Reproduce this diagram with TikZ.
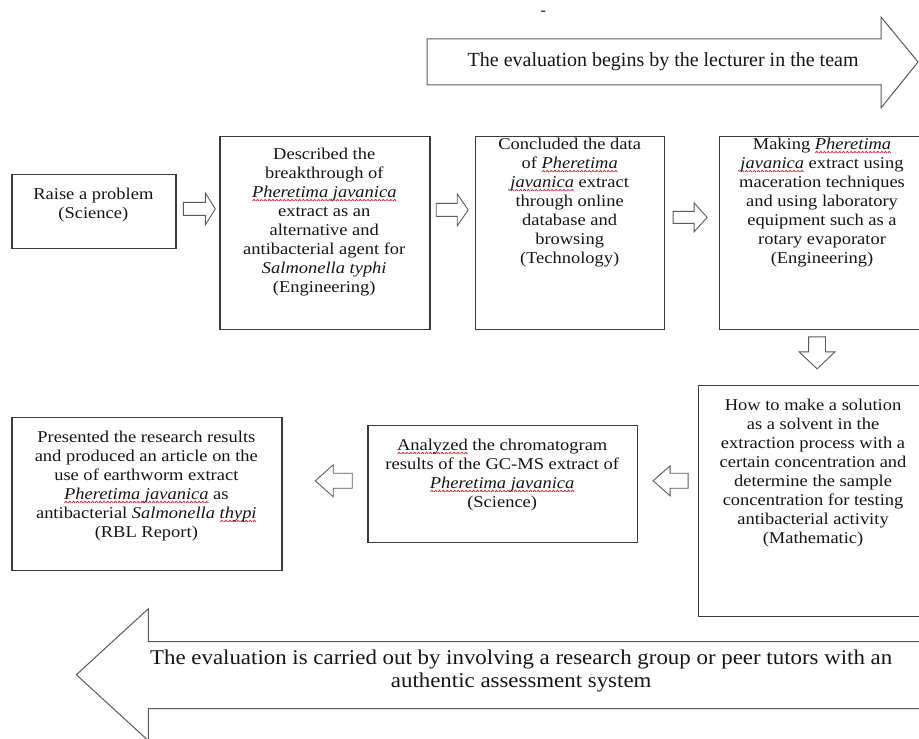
\documentclass[tikz,border=0pt]{standalone}
\usepackage{fontspec}
\setmainfont{Liberation Serif}
\newfontfamily\boxfont[FakeStretch=1.12]{Liberation Serif}
\newfontfamily\wideserif[FakeStretch=1.09]{Liberation Serif}
\definecolor{spellred}{HTML}{D02838}
\definecolor{boxgray}{HTML}{3A3A3A}
\definecolor{arrgray}{HTML}{5A5A5A}
\definecolor{txtcol}{HTML}{151515}
\newsavebox\spellbox
\newsavebox\wavebox
\newcommand\spell[1]{\sbox\spellbox{#1}\leavevmode\hbox{\rlap{\raisebox{-3.6pt}{\hbox to \wd\spellbox{\xleaders\copy\wavebox\hfill}}}\usebox\spellbox}}
\newcommand\arrR[6]{\draw[blk] (#1,#3-#4) -- (#2-#6,#3-#4) -- (#2-#6,#3-#5) -- (#2,#3) -- (#2-#6,#3+#5) -- (#2-#6,#3+#4) -- (#1,#3+#4) -- cycle;}
\newcommand\arrL[6]{\draw[blk] (#2,#3-#4) -- (#1+#6,#3-#4) -- (#1+#6,#3-#5) -- (#1,#3) -- (#1+#6,#3+#5) -- (#1+#6,#3+#4) -- (#2,#3+#4) -- cycle;}
\newcommand\arrD[6]{\draw[blk] (#1-#4,#2) -- (#1-#4,#3-#6) -- (#1-#5,#3-#6) -- (#1,#3) -- (#1+#5,#3-#6) -- (#1+#4,#3-#6) -- (#1+#4,#2) -- cycle;}
\tikzset{
  boxst/.style={draw=boxgray, line width=1.3pt, fill=white, inner sep=0pt, anchor=north west},
  txt/.style={inner sep=0pt, align=center, anchor=north, text=txtcol,
    font=\boxfont\fontsize{16.5}{19}\selectfont},
  blk/.style={draw=arrgray, line width=0.9pt, fill=white, line join=miter},
  bigblk/.style={draw=arrgray, line width=1pt, fill=white, line join=miter},
}
\begin{document}
\begin{tikzpicture}[x=1pt,y=-1pt]
\global\sbox\wavebox{\begin{pgfpicture}\pgfsetlinewidth{0.8pt}\pgfsetstrokecolor{spellred}\pgfpathmoveto{\pgfpoint{0pt}{0pt}}\pgfpathlineto{\pgfpoint{1.5pt}{1.6pt}}\pgfpathlineto{\pgfpoint{3pt}{0pt}}\pgfusepath{stroke}\end{pgfpicture}}%
\useasboundingbox (0,0) rectangle (919,737);
\clip (0,0) rectangle (919,737);
\fill[white] (0,0) rectangle (919,737);

% top big arrow
\draw[bigblk] (427,37) -- (881,37) -- (881,15) -- (918,60) -- (881,106) -- (881,83) -- (427,83) -- cycle;
\node[inner sep=0pt, text=txtcol, font=\fontsize{20}{23}\selectfont] (toptxt) at (663,60) {The evaluation begins by the lecturer in the team};
\node[inner sep=0pt, text=txtcol, font=\fontsize{16}{18}\selectfont] (dash) at (543,11) {-};

% bottom big arrow
\draw[bigblk] (935,640) -- (148,640) -- (148,607) -- (76,673) -- (148,739) -- (148,707) -- (935,707);
\node[inner sep=0pt, align=center, text=txtcol, font=\wideserif\fontsize{21}{23}\selectfont] (bottxt) at (521,669)
  {The evaluation is carried out by involving a research group or peer tutors with an\\authentic assessment system};

% boxes
\node[boxst, minimum width=164pt, minimum height=74pt] (b1) at (11,172) {};
\node[boxst, minimum width=210pt, minimum height=193pt] (b2) at (219,134) {};
\node[boxst, minimum width=189pt, minimum height=193pt] (b3) at (475,134) {};
\node[boxst, minimum width=210pt, minimum height=193pt] (b4) at (719,134) {};
\node[boxst, minimum width=232pt, minimum height=231pt] (b5) at (698,383) {};
\node[boxst, minimum width=270pt, minimum height=117pt] (b6) at (367,423) {};
\node[boxst, minimum width=270pt, minimum height=153pt] (b7) at (11,415) {};

% texts
\node[txt] (t1) at (93,186) {Raise a problem\\(Science)};
\node[txt] (t2) at (324,146) {Described the\\breakthrough of\\\spell{\textit{Pheretima javanica}}\\extract as an\\alternative and\\antibacterial agent for\\\textit{Salmonella typhi}\\(Engineering)};
\node[txt] (t3) at (569.5,136) {Concluded the data\\of \spell{\textit{Pheretima}}\\\spell{\textit{javanica}} extract\\through online\\database and\\browsing\\(Technology)};
\node[txt] (t4) at (822,136) {Making \spell{\textit{Pheretima}}\\\spell{\textit{javanica}} extract using\\maceration techniques\\and using laboratory\\equipment such as a\\rotary evaporator\\(Engineering)};
\node[txt] (t5) at (813,397) {How to make a solution\\as a solvent in the\\extraction process with a\\certain concentration and\\determine the sample\\concentration for testing\\antibacterial activity\\(Mathematic)};
\node[txt] (t6) at (502,437) {\spell{Analyzed} the chromatogram\\results of the GC-MS extract of\\\spell{\textit{Pheretima javanica}}\\(Science)};
\node[txt] (t7) at (146,429) {Presented the research results\\and produced an article on the\\use of earthworm extract\\\spell{\textit{Pheretima javanica}} as\\antibacterial \textit{Salmonella} \spell{\textit{thypi}}\\(RBL Report)};

% small block arrows
\arrR{183}{215}{207}{6.5}{16}{10}
\arrR{436}{468}{208}{6.5}{16}{11}
\arrR{673}{707}{215.5}{6}{14.5}{13}
\arrD{817}{335}{367}{8.5}{18}{17}
\arrL{653}{688}{479}{7.5}{15}{17}
\arrL{315}{352}{479}{7.5}{16}{18}
\end{tikzpicture}
\end{document}
